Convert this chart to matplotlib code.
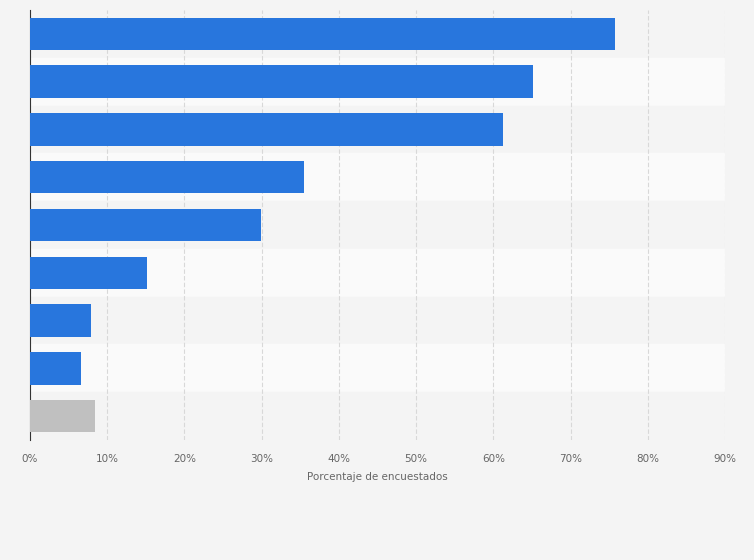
import matplotlib
matplotlib.use("Agg")
import matplotlib.pyplot as plt
from matplotlib.ticker import FuncFormatter

values = [75.8, 65.2, 61.3, 35.5, 29.9, 15.2, 7.9, 6.6, 8.4]
colors = ["#2876dd"] * 8 + ["#c0c0c0"]
ticks = list(range(0, 91, 10))

fig = plt.figure(figsize=(7.54, 5.6), dpi=100, facecolor="#f4f4f4")
ax = fig.add_axes([30/754, 120/560, 695/754, 430/560])
ax.set_facecolor("#f4f4f4")
n = len(values)
pos = list(range(n))
for i in pos:
    ax.axhspan(i - 0.5, i + 0.5, color="#f4f4f4" if i % 2 == 0 else "#fafafa", zorder=0)
ax.barh(pos, values, height=0.68, color=colors, zorder=3)
ax.set_ylim(n - 0.5, -0.5)
ax.set_xlim(0, 90)
ax.set_xticks(ticks)
ax.xaxis.set_major_formatter(FuncFormatter(lambda v, p: f"{int(v)}%"))
ax.grid(axis="x", color="#d8d8d8", linestyle=(0, (4, 2)), linewidth=0.8, zorder=1)
ax.set_yticks([])
for s in ["top", "right", "bottom"]:
    ax.spines[s].set_visible(False)
ax.spines["left"].set_color("#333333")
ax.tick_params(axis="x", length=0, labelsize=7.5, labelcolor="#666666", pad=10)
ax.set_xlabel("Porcentaje de encuestados", fontsize=7.5, color="#666666", labelpad=6)
fig.savefig("out.png", dpi=100, facecolor=fig.get_facecolor())
